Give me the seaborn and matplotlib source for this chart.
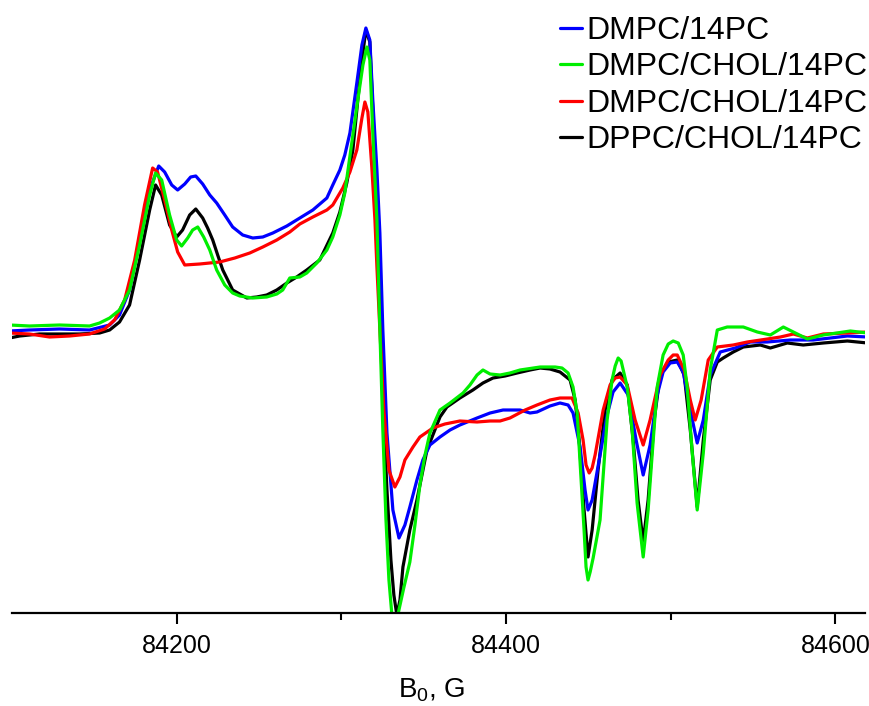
import matplotlib
matplotlib.use("Agg")
import matplotlib.pyplot as plt
import seaborn as sns
import pandas as pd
from matplotlib.ticker import FixedLocator

# ---- data (field in G, intensity in arbitrary units) ----
labels = ["DMPC/14PC", "DMPC/CHOL/14PC", "DMPC/CHOL/14PC", "DPPC/CHOL/14PC"]
colors = ["#0000ff", "#00ee00", "#ff0000", "#000000"]

blue_B = [84098.5, 84110.6, 84128.9, 84147.1, 84159.3, 84165.3, 84171.4, 84177.5, 84183.6, 84189.1,
          84192.7, 84197.0, 84200.6, 84204.9, 84208.5, 84211.6, 84215.8, 84220.1, 84224.3, 84229.2,
          84234.0, 84240.1, 84246.2, 84252.3, 84258.4, 84266.9, 84274.8, 84282.7, 84291.2, 84294.8,
          84299.1, 84302.1, 84305.2, 84309.4, 84312.5, 84314.9, 84317.3, 84319.1, 84321.6, 84323.4,
          84325.2, 84327.7, 84331.3, 84335.0, 84338.6, 84341.6, 84345.9, 84349.5, 84353.8, 84359.9,
          84366.0, 84372.0, 84382.4, 84390.3, 84398.2, 84408.5, 84414.6, 84418.8, 84426.7, 84432.8,
          84437.7, 84440.7, 84445.0, 84448.0, 84449.8, 84452.3, 84457.1, 84461.4, 84465.0, 84469.3,
          84474.2, 84479.0, 84483.3, 84487.5, 84491.8, 84495.4, 84499.7, 84504.0, 84507.6, 84511.9,
          84516.1, 84519.8, 84524.0, 84530.1, 84539.2, 84548.3, 84558.7, 84572.6, 84586.6, 84607.3,
          84619.5]
blue_I = [-1, 0, 1, 0, 5, 15, 40, 90, 140, 164,
          158, 145, 140, 146, 153, 154, 146, 135, 127, 115,
          103, 95, 92, 93, 97, 104, 112, 120, 132, 145,
          160, 175, 197, 247, 285, 302, 290, 230, 160, 97,
          0, -103, -180, -208, -195, -177, -150, -130, -115, -107,
          -100, -95, -88, -83, -80, -80, -83, -82, -76, -73,
          -75, -83, -117, -160, -180, -170, -125, -85, -62, -53,
          -65, -110, -145, -115, -65, -42, -33, -32, -42, -80,
          -113, -90, -45, -22, -18, -12, -12, -10, -10, -6,
          -7]

green_B = [84098.5, 84110.6, 84128.9, 84147.1, 84153.2, 84159.3, 84165.3, 84171.4, 84177.5, 84183.6,
           84187.2, 84190.9, 84195.7, 84200.0, 84203.0, 84206.7, 84209.7, 84212.8, 84216.4, 84220.1,
           84224.3, 84229.2, 84234.0, 84238.3, 84246.2, 84254.7, 84260.8, 84264.4, 84268.7, 84274.8,
           84279.0, 84285.1, 84291.2, 84294.8, 84299.1, 84302.1, 84307.0, 84310.0, 84313.1, 84315.5,
           84317.3, 84319.1, 84321.6, 84323.4, 84325.2, 84327.1, 84328.9, 84330.7, 84332.5, 84334.3,
           84337.9, 84341.6, 84344.7, 84347.7, 84350.8, 84353.8, 84359.9, 84366.0, 84373.9, 84378.1,
           84382.4, 84386.0, 84390.3, 84396.4, 84402.4, 84408.5, 84420.7, 84429.8, 84434.0, 84437.7,
           84440.7, 84443.2, 84445.0, 84447.4, 84448.6, 84449.8, 84451.1, 84452.9, 84457.1, 84461.4,
           84464.4, 84466.3, 84468.1, 84469.9, 84473.6, 84476.6, 84479.6, 84483.3, 84486.3, 84489.4,
           84491.8, 84495.4, 84498.5, 84501.5, 84504.6, 84507.6, 84510.0, 84513.1, 84516.1, 84519.8,
           84524.0, 84528.3, 84534.3, 84544.1, 84552.6, 84560.5, 84568.4, 84574.5, 84583.0, 84592.7,
           84609.1, 84619.5]
green_I = [5, 4, 5, 4, 7, 12, 20, 40, 85, 135,
           157, 150, 115, 90, 84, 92, 100, 103, 93, 80,
           60, 45, 37, 34, 32, 33, 36, 40, 52, 53,
           57, 67, 80, 93, 115, 137, 195, 230, 265, 283,
           270, 197, 110, 0, -100, -190, -250, -285, -300, -285,
           -258, -232, -195, -155, -125, -103, -80, -73, -63, -55,
           -45, -40, -44, -45, -43, -40, -37, -37, -38, -43,
           -57, -83, -133, -200, -237, -250, -242, -228, -190, -90,
           -50, -36, -28, -31, -57, -100, -173, -227, -180, -110,
           -57, -25, -14, -11, -13, -25, -57, -123, -180, -123,
           -40, 0, 3, 3, -2, -5, 3, -2, -9, -5,
           -1, -3]

red_B = [84098.5, 84110.6, 84122.8, 84135.0, 84147.1, 84156.2, 84162.3, 84168.4, 84174.5, 84180.5,
         84185.4, 84188.4, 84192.7, 84197.0, 84200.6, 84204.9, 84214.0, 84226.1, 84235.3, 84244.4,
         84252.3, 84260.8, 84268.7, 84274.8, 84282.7, 84291.2, 84294.8, 84300.9, 84305.2, 84309.4,
         84312.5, 84314.3, 84316.1, 84318.5, 84320.4, 84321.6, 84323.4, 84325.8, 84328.9, 84332.5,
         84335.6, 84338.6, 84343.5, 84347.7, 84355.6, 84362.9, 84372.0, 84382.4, 84390.3, 84396.4,
         84402.4, 84411.6, 84418.8, 84426.7, 84432.8, 84440.1, 84443.8, 84446.8, 84448.6, 84450.5,
         84452.3, 84454.1, 84459.0, 84463.2, 84466.3, 84469.3, 84473.6, 84478.4, 84483.3, 84487.5,
         84493.6, 84498.5, 84501.5, 84504.0, 84508.2, 84511.9, 84514.9, 84518.5, 84522.8, 84528.3,
         84538.0, 84546.5, 84558.7, 84566.6, 84574.5, 84583.0, 84592.7, 84607.3, 84619.5]
red_I = [-3, -4, -7, -6, -4, 1, 10, 30, 70, 125,
         162, 158, 130, 100, 78, 65, 66, 68, 72, 77,
         83, 90, 98, 106, 113, 120, 125, 142, 158, 180,
         212, 228, 218, 163, 110, 63, 0, -80, -140, -157,
         -147, -130, -117, -107, -98, -94, -91, -92, -91, -91,
         -88, -80, -75, -70, -68, -68, -83, -110, -135, -143,
         -138, -125, -80, -55, -48, -47, -55, -90, -115, -90,
         -45, -30, -25, -25, -40, -70, -90, -70, -30, -17,
         -15, -12, -9, -7, -4, -8, -4, -3, -2]

black_B = [84098.5, 84104.6, 84116.7, 84128.9, 84141.0, 84153.2, 84159.3, 84165.3, 84171.4, 84177.5,
           84183.6, 84187.2, 84190.9, 84195.7, 84200.0, 84203.6, 84207.9, 84211.6, 84215.8, 84218.8,
           84221.9, 84224.9, 84228.0, 84234.0, 84242.6, 84248.6, 84254.7, 84260.8, 84266.9, 84272.9,
           84279.0, 84286.9, 84294.8, 84299.1, 84303.3, 84307.0, 84310.0, 84312.5, 84314.9, 84317.3,
           84319.1, 84321.6, 84323.4, 84325.2, 84327.7, 84330.1, 84331.9, 84333.7, 84335.6, 84337.4,
           84341.6, 84345.9, 84352.0, 84359.9, 84364.1, 84372.0, 84379.9, 84386.0, 84392.1, 84399.4,
           84406.7, 84414.6, 84420.7, 84426.7, 84432.8, 84438.9, 84442.0, 84444.4, 84447.4, 84449.8,
           84452.3, 84455.9, 84460.2, 84464.4, 84469.3, 84473.6, 84477.2, 84480.2, 84483.3, 84486.3,
           84490.0, 84493.6, 84498.5, 84504.0, 84508.2, 84511.9, 84516.1, 84519.8, 84524.0, 84528.3,
           84531.9, 84538.0, 84544.1, 84554.4, 84560.5, 84570.8, 84580.5, 84592.7, 84607.3, 84619.5]
black_I = [-8, -6, -4, -4, -4, -3, 0, 8, 25, 70,
           120, 145, 135, 105, 93, 100, 115, 121, 112, 102,
           90, 75, 60, 40, 32, 33, 35, 40, 47, 53,
           60, 70, 97, 118, 147, 180, 230, 270, 300, 288,
           220, 130, 40, -70, -160, -230, -265, -285, -270, -237,
           -200, -170, -120, -87, -77, -68, -60, -53, -48, -46,
           -43, -40, -38, -39, -42, -50, -70, -110, -180, -227,
           -200, -140, -80, -50, -43, -55, -110, -170, -212, -170,
           -90, -45, -32, -30, -45, -100, -177, -110, -50, -32,
           -28, -22, -17, -15, -18, -13, -15, -13, -11, -13]

x_major = [84200, 84400, 84600]
x_minor = [84300, 84500]

# ---- figure ----
sns.set_theme(style="white")
plt.rcParams["font.family"] = ["Liberation Sans", "DejaVu Sans"]
plt.rcParams["mathtext.default"] = "regular"

fig = plt.figure(figsize=(8.7, 7.06), dpi=100)
ax = fig.add_axes([12 / 870, 93 / 706, 853 / 870, 613 / 706])

series = {
    0: (blue_B, blue_I),
    1: (green_B, green_I),
    2: (red_B, red_I),
    3: (black_B, black_I),
}
draw_order = [3, 0, 2, 1]
handles = {}
for k in draw_order:
    B, I = series[k]
    df = pd.DataFrame({"B": B, "I": I})
    sns.lineplot(data=df, x="B", y="I", ax=ax, color=colors[k], linewidth=2.3,
                 estimator=None, sort=False, label=f"_s{k}")
    handles[k] = ax.lines[-1]

ax.set_xlim(84100, 84618)
ax.set_ylim(-283, 330)

for s in ["left", "right", "top"]:
    ax.spines[s].set_visible(False)
ax.spines["bottom"].set_color("black")
ax.spines["bottom"].set_linewidth(1.6)
ax.set_yticks([])
ax.set_ylabel("")
ax.xaxis.set_major_locator(FixedLocator(x_major))
ax.xaxis.set_minor_locator(FixedLocator(x_minor))
ax.set_xticklabels([str(v) for v in x_major])
ax.tick_params(axis="x", which="major", bottom=True, direction="out", length=8, width=1.5,
               color="black", labelsize=18, labelcolor="black", pad=7)
ax.tick_params(axis="x", which="minor", bottom=True, direction="out", length=5, width=1.5,
               color="black")
ax.set_xlabel("B$_0$, G", fontsize=20, color="black")
ax.xaxis.set_label_coords(0.492, -0.104)
ax.grid(False)
if ax.get_legend() is not None:
    ax.get_legend().remove()

fig.legend([handles[k] for k in range(4)], labels, loc="upper left",
           bbox_to_anchor=(560 / 870, 1 - 16 / 706), frameon=False, fontsize=23,
           handlelength=0.7, handletextpad=0.13, labelspacing=0.2, borderpad=0,
           borderaxespad=0, labelcolor="black")

fig.savefig("out.png", dpi=100)
